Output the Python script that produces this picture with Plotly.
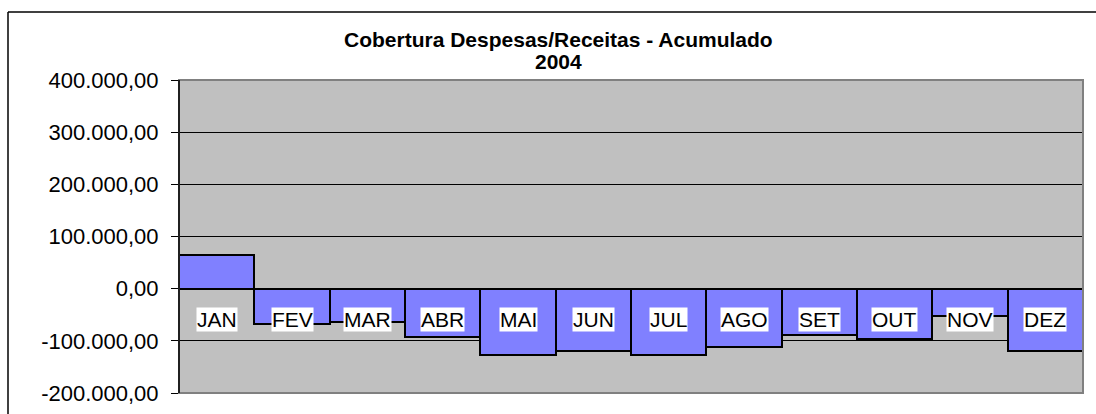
import plotly.graph_objects as go

months = ["JAN", "FEV", "MAR", "ABR", "MAI", "JUN", "JUL", "AGO", "SET", "OUT", "NOV", "DEZ"]
values = [64000, -68000, -63000, -93000, -128000, -120000, -128000, -112000, -88000, -96000, -53000, -120000]
y_ticks = [-200000, -100000, 0, 100000, 200000, 300000, 400000]
title_line1 = "Cobertura Despesas/Receitas - Acumulado"
title_line2 = "2004"


def fmt_br(v):
    s = f"{abs(v):,.2f}".replace(",", "X").replace(".", ",").replace("X", ".")
    return ("-" if v < 0 else "") + s


y_ticktext = [fmt_br(v) for v in y_ticks]

FONT = "Liberation Sans, Arial, sans-serif"
W, H = 1096, 414
L, R, T, B = 179, 13, 80, 21
pw = W - L - R
ph = H - T - B


def px_x(x):
    return (x - L) / pw


def px_y(y):
    return (H - B - y) / ph


fig = go.Figure()
fig.add_trace(go.Bar(
    x=months, y=values, width=1,
    marker=dict(color="#8080FF", line=dict(color="black", width=2)),
    hoverinfo="x+y",
))

annotations = []
for m in months:
    annotations.append(dict(
        x=m, y=0, xref="x", yref="y", text=m, showarrow=False,
        yanchor="middle", yshift=-31, bgcolor="white", borderpad=0,
        font=dict(family=FONT, size=21, color="black"),
    ))
annotations.append(dict(
    x=px_x(558), y=px_y(40), xref="paper", yref="paper", text="<b>" + title_line1 + "</b>",
    showarrow=False, xanchor="center", yanchor="middle",
    font=dict(family=FONT, size=21, color="black"),
))
annotations.append(dict(
    x=px_x(558), y=px_y(62), xref="paper", yref="paper", text="<b>" + title_line2 + "</b>",
    showarrow=False, xanchor="center", yanchor="middle",
    font=dict(family=FONT, size=21, color="black"),
))

shapes = [
    dict(type="line", xref="paper", yref="paper", x0=px_x(8), x1=px_x(1100), y0=px_y(12), y1=px_y(12),
         line=dict(color="black", width=1.5)),
    dict(type="line", xref="paper", yref="paper", x0=px_x(8), x1=px_x(8), y0=px_y(12), y1=px_y(420),
         line=dict(color="black", width=1.5)),
    dict(type="rect", xref="paper", yref="paper", x0=0, x1=1, y0=0, y1=1,
         line=dict(color="#808080", width=2), layer="above"),
    dict(type="line", xref="paper", yref="paper", x0=0, x1=0, y0=0, y1=1,
         line=dict(color="black", width=1.5), layer="above"),
]

fig.update_layout(
    width=W, height=H,
    autosize=False,
    margin=dict(l=L, r=R, t=T, b=B, pad=0, autoexpand=False),
    paper_bgcolor="white",
    plot_bgcolor="#C0C0C0",
    bargap=0,
    showlegend=False,
    annotations=annotations,
    shapes=shapes,
    xaxis=dict(showticklabels=False, showgrid=False, zeroline=False, showline=False,
               ticks="", fixedrange=True, automargin=False),
    yaxis=dict(range=[-200000, 400000], tickvals=y_ticks, ticktext=y_ticktext,
               showgrid=True, gridcolor="black", gridwidth=1,
               zeroline=True, zerolinecolor="black", zerolinewidth=2,
               ticks="outside", ticklen=7, tickcolor="black", tickwidth=1,
               ticklabelstandoff=8, automargin=False,
               tickfont=dict(family=FONT, size=22, color="black"),
               showline=False),
)

fig.write_html(
    "out.html",
    config={"displayModeBar": False, "responsive": False},
    post_script="document.body.style.margin='0';document.body.style.overflow='hidden';",
)
